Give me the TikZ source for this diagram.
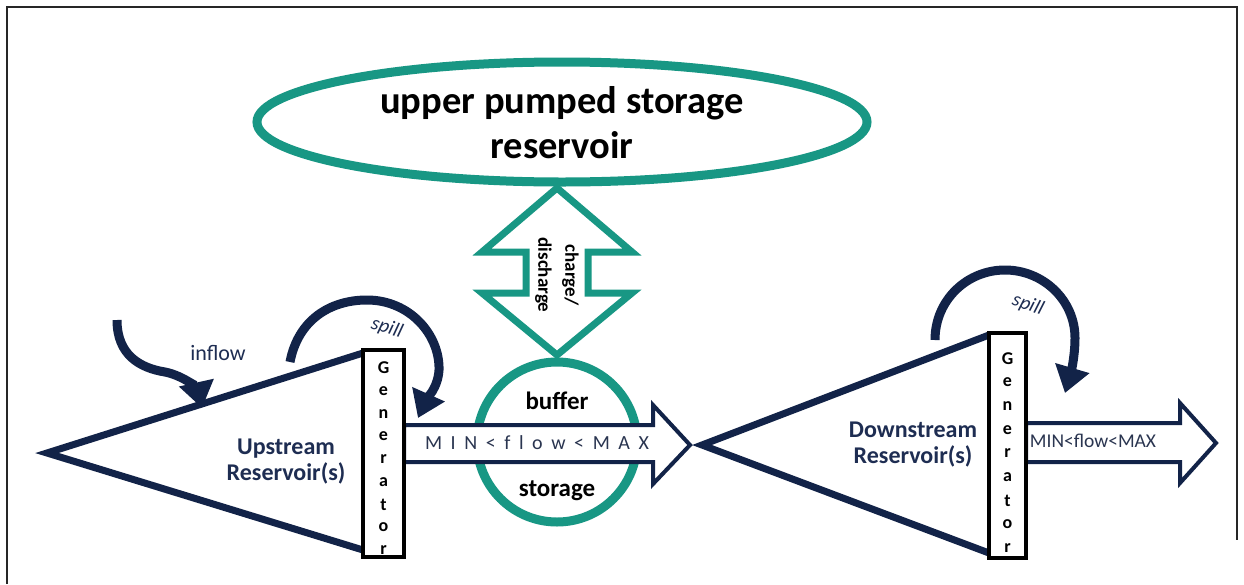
\documentclass[tikz,border=0pt]{standalone}
\usepackage{fontspec}
\setmainfont{Carlito}
\usetikzlibrary{arrows.meta}
\definecolor{tealc}{HTML}{189784}
\definecolor{navy}{HTML}{122348}
\definecolor{navytext}{HTML}{1E2D52}
\definecolor{flowtext}{HTML}{2A3550}
\begin{document}
\begin{tikzpicture}[x=1pt,y=-1pt,
  tealline/.style={draw=tealc,line width=#1},
  navyarrow/.style={draw=navy,line width=4pt,fill=white,line join=miter},
  genbox/.style={draw=black,line width=4pt,fill=white,inner sep=0pt},
  genletter/.style={font=\fontsize{18}{18}\selectfont\bfseries,text=black},
  bigtext/.style={font=\fontsize{38.5}{45}\selectfont\bfseries,align=center},
  restext/.style={font=\fontsize{24}{26}\selectfont\bfseries,text=navytext,align=center},
  buftext/.style={font=\fontsize{25}{25}\selectfont\bfseries,text=black},
  flowlabel/.style={font=\fontsize{#1}{20}\selectfont,text=flowtext},
  curvearrow/.style={draw=navy,line width=9pt,-{Triangle[width=34pt,length=26pt]}},
  smalllabel/.style={font=\fontsize{22}{22}\selectfont,text=navytext},
  spilllabel/.style={font=\fontsize{20}{20}\selectfont\itshape,text=navytext,inner sep=1pt}]
\useasboundingbox (0,0) rectangle (1244,584);
\fill[white] (0,0) rectangle (1244,584);
\draw[line width=2pt,black!85] (7,584) -- (7,7) -- (1237,7) -- (1237,540);

% upper pumped storage reservoir
\draw[tealline=9pt] (562,122) ellipse [x radius=305,y radius=60];
\node[bigtext] (upper) at (562,123) {upper pumped storage\\reservoir};

% buffer storage circle
\draw[tealline=9pt] (557,442) circle [radius=80];
\coordinate (bufc) at (557,442);

% charge / discharge double arrow
\draw[tealline=7pt,fill=white,line join=miter]
  (557,188) -- (632,252) -- (588,252) -- (588,293) -- (632,293) -- (557,355)
  -- (482,293) -- (526,293) -- (526,252) -- (482,252) -- cycle;
\node[rotate=-90,font=\fontsize{19}{27}\selectfont\bfseries,align=center] (charge) at (557,275) {charge/\\discharge};

% upstream reservoir triangle
\draw[navy,line width=7pt,line join=miter] (363,353) -- (47,453) -- (363,550);
\node[restext] (upres) at (286,462) {Upstream\\Reservoir(s)};

% downstream reservoir triangle
\draw[navy,line width=7pt,line join=miter] (989,335) -- (702,445) -- (989,553);
\node[restext] (downres) at (913,445) {Downstream\\Reservoir(s)};

% middle flow arrow
\draw[navyarrow] (404,425) -- (653,425) -- (653,405) -- (690,445) -- (653,484) -- (653,462) -- (404,462) -- cycle;
\node[flowlabel=20] (midflow) at (537,443) {\makebox[224pt][s]{M\hfill I\hfill N\hfill <\hfill f\hfill l\hfill o\hfill w\hfill <\hfill M\hfill A\hfill X}};

\node[buftext] (buffer) at (557,401) {buffer};
\node[buftext] (storage) at (557,491) {storage};

% downstream flow arrow
\draw[navyarrow] (1026,423) -- (1180,423) -- (1180,403) -- (1216,443) -- (1180,483) -- (1180,462) -- (1026,462) -- cycle;
\node[flowlabel=19.5] (downflow) at (1093,441) {MIN<flow<MAX};

% generator boxes
\node[genbox,minimum width=41pt,minimum height=207pt] (gen1) at (383.5,453.5) {};
\foreach \l [count=\i from 0] in {G,e,n,e,r,a,t,o,r}
  \node[genletter] (g1-\i) at (383.5,368+22.8*\i) {\l};
\node[genbox,minimum width=37pt,minimum height=225pt] (gen2) at (1007.5,445.5) {};
\foreach \l [count=\i from 0] in {G,e,n,e,r,a,t,o,r}
  \node[genletter] (g2-\i) at (1007.5,359+23.6*\i) {\l};

% inflow arrow
\coordinate (inS) at (117,320);
\coordinate (inE) at (202,408);
\draw[curvearrow] (inS) .. controls (117,355) and (140,368) .. (165,372)
  .. controls (185,376) and (198,390) .. (inE);
\node[smalllabel] (inflow) at (218,353) {inflow};

% upstream spill
\coordinate (sp1S) at (290,362);
\coordinate (sp1E) at (418,418);
\draw[curvearrow] (sp1S) .. controls (298,320) and (330,300) .. (367,300)
  .. controls (410,300) and (440,335) .. (439,370)
  .. controls (438,388) and (426,400) .. (sp1E);
\node[spilllabel,rotate=-18] (spill1) at (387,328) {spill};

% downstream spill
\coordinate (sp2S) at (935,340);
\coordinate (sp2E) at (1065,393);
\draw[curvearrow] (sp2S) .. controls (935,300) and (967,270) .. (1005,270)
  .. controls (1043,270) and (1075,300) .. (1075,338)
  .. controls (1075,358) and (1070,376) .. (sp2E);
\node[spilllabel,rotate=-20] (spill2) at (1028,305) {spill};
\end{tikzpicture}
\end{document}
